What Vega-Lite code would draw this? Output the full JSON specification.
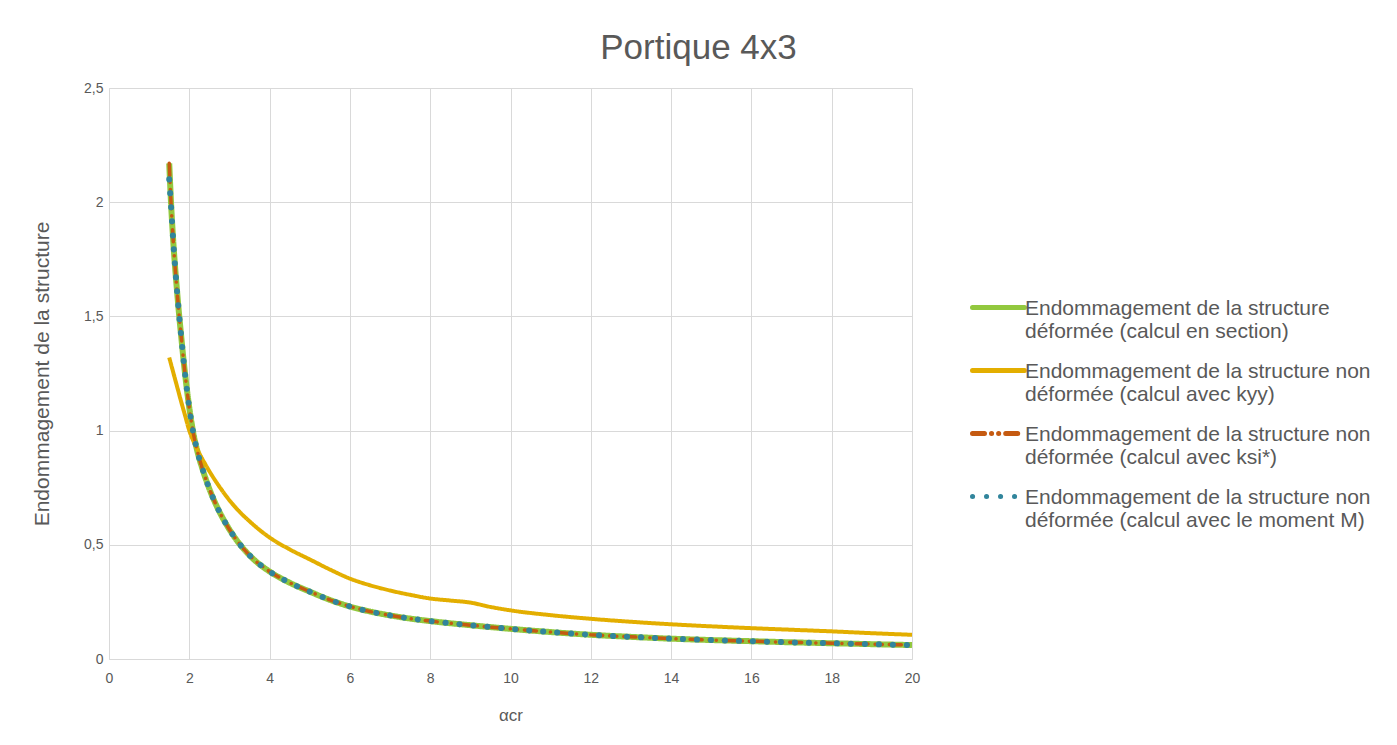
{
  "$schema": "https://vega.github.io/schema/vega-lite/v6.json",
  "width": 803,
  "height": 571,
  "autosize": "none",
  "padding": {"left": 109, "top": 88, "right": 485, "bottom": 86},
  "background": "white",
  "config": {"view": {"stroke": null}, "font": "Liberation Sans"},
  "title": {"text": "Portique 4x3", "fontSize": 35, "font": "Liberation Sans", "fontWeight": "normal", "color": "#595959", "frame": "group", "anchor": "middle", "dx": 188, "offset": 15},
  "datasets": {
    "series": [
      {"k": "g", "name": "Endommagement de la structure|déformée (calcul en section)"},
      {"k": "y", "name": "Endommagement de la structure non|déformée (calcul avec kyy)"},
      {"k": "r", "name": "Endommagement de la structure non|déformée (calcul avec ksi*)"},
      {"k": "b", "name": "Endommagement de la structure non|déformée (calcul avec le moment M)"}
    ],
    "pts": [
      {"k":"g","a":1.5,"v":2.17},{"k":"g","a":1.55,"v":1.98},{"k":"g","a":1.6,"v":1.83},{"k":"g","a":1.7,"v":1.6},{"k":"g","a":1.75,"v":1.5},{"k":"g","a":1.8,"v":1.41},{"k":"g","a":1.85,"v":1.32},{"k":"g","a":1.9,"v":1.24},{"k":"g","a":2.0,"v":1.1},{"k":"g","a":2.1,"v":0.99},{"k":"g","a":2.2,"v":0.91},{"k":"g","a":2.35,"v":0.82},{"k":"g","a":2.5,"v":0.745},{"k":"g","a":2.7,"v":0.663},{"k":"g","a":3.0,"v":0.567},{"k":"g","a":3.3,"v":0.493},{"k":"g","a":3.6,"v":0.437},{"k":"g","a":4.0,"v":0.383},{"k":"g","a":4.5,"v":0.334},{"k":"g","a":5.0,"v":0.295},{"k":"g","a":5.5,"v":0.259},{"k":"g","a":6.0,"v":0.23},{"k":"g","a":6.5,"v":0.208},{"k":"g","a":7.0,"v":0.191},{"k":"g","a":7.5,"v":0.177},{"k":"g","a":8.0,"v":0.166},{"k":"g","a":9.0,"v":0.148},{"k":"g","a":10,"v":0.132},{"k":"g","a":11,"v":0.118},{"k":"g","a":12,"v":0.106},{"k":"g","a":13,"v":0.097},{"k":"g","a":14,"v":0.089},{"k":"g","a":15,"v":0.083},{"k":"g","a":16,"v":0.078},{"k":"g","a":17,"v":0.073},{"k":"g","a":18,"v":0.069},{"k":"g","a":19,"v":0.065},{"k":"g","a":20,"v":0.061},
      {"k":"y","a":1.5,"v":1.32},{"k":"y","a":1.6,"v":1.255},{"k":"y","a":1.7,"v":1.19},{"k":"y","a":1.8,"v":1.125},{"k":"y","a":1.9,"v":1.063},{"k":"y","a":2.0,"v":1.0},{"k":"y","a":2.1,"v":0.955},{"k":"y","a":2.2,"v":0.918},{"k":"y","a":2.4,"v":0.852},{"k":"y","a":2.6,"v":0.794},{"k":"y","a":2.8,"v":0.742},{"k":"y","a":3.0,"v":0.695},{"k":"y","a":3.25,"v":0.645},{"k":"y","a":3.5,"v":0.603},{"k":"y","a":3.75,"v":0.565},{"k":"y","a":4.0,"v":0.532},{"k":"y","a":4.5,"v":0.48},{"k":"y","a":5.0,"v":0.436},{"k":"y","a":5.5,"v":0.392},{"k":"y","a":6.0,"v":0.352},{"k":"y","a":6.5,"v":0.323},{"k":"y","a":7.0,"v":0.30},{"k":"y","a":7.5,"v":0.281},{"k":"y","a":8.0,"v":0.265},{"k":"y","a":8.5,"v":0.256},{"k":"y","a":9.0,"v":0.247},{"k":"y","a":9.5,"v":0.228},{"k":"y","a":10,"v":0.213},{"k":"y","a":11,"v":0.192},{"k":"y","a":12,"v":0.176},{"k":"y","a":13,"v":0.163},{"k":"y","a":14,"v":0.152},{"k":"y","a":15,"v":0.143},{"k":"y","a":16,"v":0.135},{"k":"y","a":17,"v":0.128},{"k":"y","a":18,"v":0.121},{"k":"y","a":19,"v":0.113},{"k":"y","a":20,"v":0.106},
      {"k":"r","a":1.5,"v":2.17},{"k":"r","a":1.55,"v":1.98},{"k":"r","a":1.6,"v":1.83},{"k":"r","a":1.7,"v":1.6},{"k":"r","a":1.75,"v":1.5},{"k":"r","a":1.8,"v":1.41},{"k":"r","a":1.85,"v":1.32},{"k":"r","a":1.9,"v":1.24},{"k":"r","a":2.0,"v":1.1},{"k":"r","a":2.1,"v":0.99},{"k":"r","a":2.2,"v":0.91},{"k":"r","a":2.35,"v":0.82},{"k":"r","a":2.5,"v":0.745},{"k":"r","a":2.7,"v":0.663},{"k":"r","a":3.0,"v":0.567},{"k":"r","a":3.3,"v":0.493},{"k":"r","a":3.6,"v":0.437},{"k":"r","a":4.0,"v":0.383},{"k":"r","a":4.5,"v":0.334},{"k":"r","a":5.0,"v":0.295},{"k":"r","a":5.5,"v":0.259},{"k":"r","a":6.0,"v":0.23},{"k":"r","a":6.5,"v":0.208},{"k":"r","a":7.0,"v":0.191},{"k":"r","a":7.5,"v":0.177},{"k":"r","a":8.0,"v":0.166},{"k":"r","a":9.0,"v":0.148},{"k":"r","a":10,"v":0.132},{"k":"r","a":11,"v":0.118},{"k":"r","a":12,"v":0.106},{"k":"r","a":13,"v":0.097},{"k":"r","a":14,"v":0.089},{"k":"r","a":15,"v":0.083},{"k":"r","a":16,"v":0.078},{"k":"r","a":17,"v":0.073},{"k":"r","a":18,"v":0.069},{"k":"r","a":19,"v":0.065},{"k":"r","a":20,"v":0.061},
      {"k":"b","a":1.5,"v":2.1},{"k":"b","a":1.55,"v":1.97},{"k":"b","a":1.6,"v":1.83},{"k":"b","a":1.7,"v":1.6},{"k":"b","a":1.75,"v":1.5},{"k":"b","a":1.8,"v":1.41},{"k":"b","a":1.85,"v":1.32},{"k":"b","a":1.9,"v":1.24},{"k":"b","a":2.0,"v":1.1},{"k":"b","a":2.1,"v":0.99},{"k":"b","a":2.2,"v":0.91},{"k":"b","a":2.35,"v":0.82},{"k":"b","a":2.5,"v":0.745},{"k":"b","a":2.7,"v":0.663},{"k":"b","a":3.0,"v":0.567},{"k":"b","a":3.3,"v":0.493},{"k":"b","a":3.6,"v":0.437},{"k":"b","a":4.0,"v":0.383},{"k":"b","a":4.5,"v":0.334},{"k":"b","a":5.0,"v":0.295},{"k":"b","a":5.5,"v":0.259},{"k":"b","a":6.0,"v":0.23},{"k":"b","a":6.5,"v":0.208},{"k":"b","a":7.0,"v":0.191},{"k":"b","a":7.5,"v":0.177},{"k":"b","a":8.0,"v":0.166},{"k":"b","a":9.0,"v":0.148},{"k":"b","a":10,"v":0.132},{"k":"b","a":11,"v":0.118},{"k":"b","a":12,"v":0.106},{"k":"b","a":13,"v":0.097},{"k":"b","a":14,"v":0.089},{"k":"b","a":15,"v":0.083},{"k":"b","a":16,"v":0.078},{"k":"b","a":17,"v":0.073},{"k":"b","a":18,"v":0.069},{"k":"b","a":19,"v":0.065},{"k":"b","a":20,"v":0.061}
    ]
  },
  "data": {"name": "pts"},
  "transform": [{"lookup": "k", "from": {"data": {"name": "series"}, "key": "k", "fields": ["name"]}}],
  "encoding": {
    "x": {"field": "a", "type": "quantitative", "scale": {"domain": [0, 20], "nice": false},
      "axis": {"values": [0,2,4,6,8,10,12,14,16,18,20], "title": "αcr", "titleFont": "Liberation Sans", "titleFontSize": 17, "titleFontWeight": "normal", "titleColor": "#595959", "titlePadding": 22, "labelColor": "#595959", "labelFontSize": 14, "labelPadding": 12, "ticks": false, "domain": true, "domainColor": "#d9d9d9", "gridColor": "#d9d9d9", "labelFlush": false}},
    "y": {"field": "v", "type": "quantitative", "scale": {"domain": [0, 2.5], "nice": false},
      "axis": {"values": [0,0.5,1,1.5,2,2.5], "labelExpr": "replace(format(datum.value, '~g'), '.', ',')", "title": "Endommagement de la structure", "titleFont": "Liberation Sans", "titleFontSize": 21, "titleFontWeight": "normal", "titleColor": "#595959", "titlePadding": 31, "labelColor": "#595959", "labelFontSize": 14, "labelPadding": 6, "ticks": false, "domain": true, "domainColor": "#d9d9d9", "gridColor": "#d9d9d9"}},
    "color": {"field": "name", "type": "nominal",
      "scale": {"domain": [
        "Endommagement de la structure|déformée (calcul en section)",
        "Endommagement de la structure non|déformée (calcul avec kyy)",
        "Endommagement de la structure non|déformée (calcul avec ksi*)",
        "Endommagement de la structure non|déformée (calcul avec le moment M)"],
        "range": ["#92C83E", "#E3AE00", "#C55A11", "#31859C"]},
      "legend": {"title": null, "orient": "none", "legendX": 861, "legendY": 191, "padding": 0,
        "symbolType": "stroke", "symbolSize": 2704, "symbolStrokeWidth": 5,
        "labelExpr": "split(datum.label, '|')", "labelFont": "Liberation Sans", "labelFontSize": 21, "labelColor": "#595959", "labelLimit": 600, "labelOffset": -2, "labelBaseline": "top", "rowPadding": -10,
        "encode": {
          "symbols": {"update": {"strokeCap": {"value": "round"}}},
          "labels": {"update": {"dy": {"value": -10}}}
        }}},
    "strokeDash": {"field": "name", "type": "nominal",
      "scale": {"domain": [
        "Endommagement de la structure|déformée (calcul en section)",
        "Endommagement de la structure non|déformée (calcul avec kyy)",
        "Endommagement de la structure non|déformée (calcul avec ksi*)",
        "Endommagement de la structure non|déformée (calcul avec le moment M)"],
        "range": [[1, 0], [1, 0], [12, 7, 0.1, 7, 0.1, 7], [0.1, 13.9]]}}
  },
  "layer": [
    {"transform": [{"filter": "datum.k == 'g'"}], "mark": {"type": "line", "strokeWidth": 6, "interpolate": "monotone"}},
    {"transform": [{"filter": "datum.k == 'y'"}], "mark": {"type": "line", "strokeWidth": 4, "interpolate": "monotone"}},
    {"transform": [{"filter": "datum.k == 'r'"}], "mark": {"type": "line", "strokeWidth": 3.5, "strokeCap": "round", "interpolate": "monotone"}},
    {"transform": [{"filter": "datum.k == 'b'"}], "mark": {"type": "line", "strokeWidth": 6, "strokeCap": "round", "interpolate": "monotone"}}
  ]
}
